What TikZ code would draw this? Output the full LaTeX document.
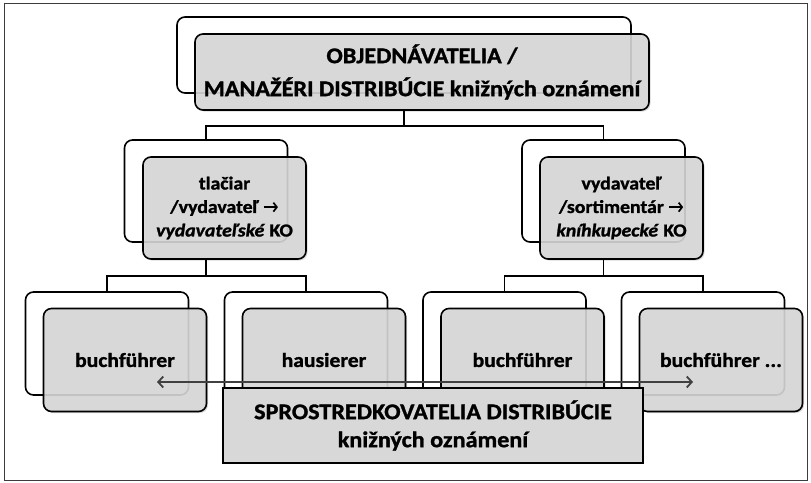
\documentclass[tikz,border=0pt]{standalone}
\usepackage{fontspec}
\setmainfont{Carlito}[FakeStretch=1.08, BoldFeatures={FakeBold=1.3}, BoldItalicFeatures={FakeBold=1.3}]
\usetikzlibrary{arrows.meta,shadows}
\definecolor{boxgray}{RGB}{216,216,216}
\definecolor{framegray}{RGB}{60,60,60}
\definecolor{arrowgray}{RGB}{64,64,64}
\newsavebox\arrbox
\sbox\arrbox{\tikz[x=1pt,y=1pt]\draw[line width=1.7pt, -{Straight Barb[length=3.5pt,width=9pt]}] (0,0) -- (14,0);}
\newcommand{\rarr}{\ \raisebox{0.5pt}{\usebox\arrbox}}
\begin{document}
\begin{tikzpicture}[x=1pt,y=-1pt,
  backbox/.style={draw=black, line width=1.6pt, rounded corners=8pt, fill=white, inner sep=0pt},
  frontbox/.style={draw=black, line width=1.6pt, rounded corners=8pt, fill=boxgray, fill opacity=0.88, text opacity=1,
     drop shadow={shadow xshift=1.5pt, shadow yshift=-1.5pt, opacity=0.3},
     align=center, inner sep=0pt, font=\bfseries\fontsize{20}{23.5}\selectfont},
  bigbox/.style={minimum width=454pt, minimum height=76pt},
  midbox/.style={minimum width=163pt, minimum height=102pt, font=\bfseries\fontsize{18.3}{23.5}\selectfont},
  lowbox/.style={minimum width=163pt, minimum height=103pt},
  conn/.style={draw=black, line width=1.6pt},
  dblarrow/.style={draw=arrowgray, line width=1.8pt, {Straight Barb[length=5pt,width=11pt]}-{Straight Barb[length=5pt,width=11pt]}},
  basebox/.style={draw=black, line width=1.6pt, fill=boxgray, align=center, minimum width=420pt, minimum height=75pt,
     font=\bfseries\fontsize{22.4}{28}\selectfont}
]
\useasboundingbox (0,0) rectangle (811,482);
\fill[white] (0,0) rectangle (811,482);
\draw[draw=framegray, line width=1pt] (4,3) rectangle (807,480);

% back boxes
\node[backbox, bigbox] (topback) at (404,55) {};
\node[backbox, midbox] (mlback) at (206,191) {};
\node[backbox, midbox] (mrback) at (603.5,191) {};
\node[backbox, lowbox] (b1back) at (107,343.5) {};
\node[backbox, lowbox] (b2back) at (306,343.5) {};
\node[backbox, lowbox] (b3back) at (504.5,343.5) {};
\node[backbox, lowbox] (b4back) at (703,343.5) {};

% front boxes
\node[frontbox, bigbox, font=\bfseries\fontsize{22.4}{33}\selectfont] (topfront) at (422,72)
  {OBJEDNÁVATELIA /\\MANAŽÉRI DISTRIBÚCIE knižných oznámení};
\node[frontbox, midbox] (mlfront) at (224.5,208)
  {tlačiar\\/vydavateľ\rarr\\\textit{vydavateľské} KO};
\node[frontbox, midbox] (mrfront) at (621.5,208)
  {vydavateľ\\/sortimentár\rarr\\\textit{kníhkupecké} KO};
\node[frontbox, lowbox] (b1front) at (125,360) {buchführer};
\node[frontbox, lowbox] (b2front) at (324,360) {hausierer};
\node[frontbox, lowbox] (b3front) at (522.5,360) {buchführer};
\node[frontbox, lowbox] (b4front) at (721,360) {buchführer ...};

% connectors
\coordinate (bus1) at (404,126);
\coordinate (bus2) at (206,276);
\coordinate (bus3) at (603.5,276);
\draw[conn] (topfront.south -| topback.south) -- (bus1);
\draw[conn] (mlback.north) |- (bus1) -| (mrback.north);
\draw[conn] (mlfront.south -| mlback.south) -- (bus2);
\draw[conn] (b1back.north) |- (bus2) -| (b2back.north);
\draw[conn] (mrfront.south -| mrback.south) -- (bus3);
\draw[conn] (b3back.north) |- (bus3) -| (b4back.north);

% double arrow
\coordinate (aL) at (157,382);
\coordinate (aR) at (693,382);
\draw[dblarrow] (aL) -- (aR);

% bottom box
\node[basebox] (base) at (433,425.5) {SPROSTREDKOVATELIA DISTRIBÚCIE\\knižných oznámení};
\end{tikzpicture}
\end{document}
